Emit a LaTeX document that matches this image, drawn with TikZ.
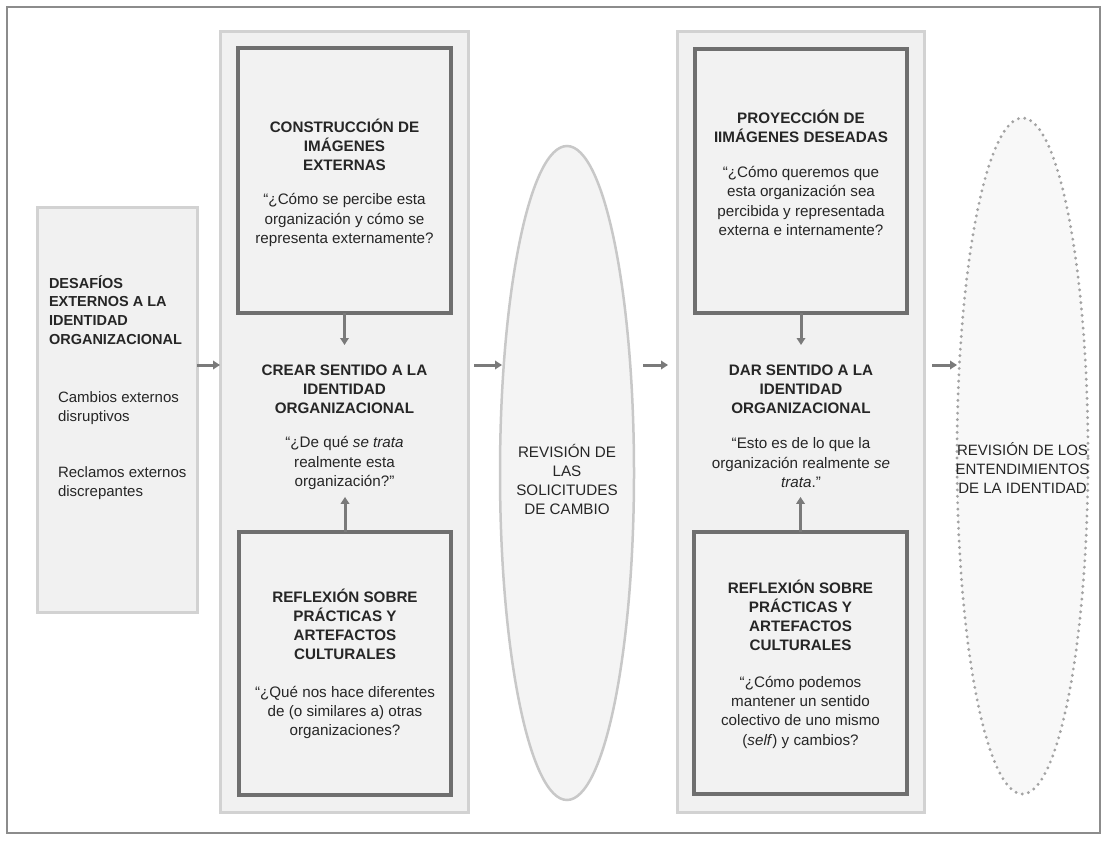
\documentclass[tikz,border=0pt]{standalone}
\usepackage{fontspec}
\setmainfont{Liberation Sans}
\usetikzlibrary{arrows.meta,shapes.geometric}

\definecolor{panelfill}{HTML}{F1F1F1}
\definecolor{panelline}{HTML}{D2D2D2}
\definecolor{boxfill}{HTML}{F2F2F2}
\definecolor{boxline}{HTML}{6F6F6F}
\definecolor{ink}{HTML}{262626}
\definecolor{arrowcol}{HTML}{7A7A7A}
\definecolor{framecol}{HTML}{8C8C8C}
\definecolor{ellfill}{HTML}{F4F4F4}
\definecolor{ellline}{HTML}{C8C8C8}
\definecolor{dotcol}{HTML}{A3A3A3}

% first-line strut: the baseline sits 15pt below a node's north anchor
\newcommand{\Bh}{\rule{0pt}{15pt}}
\newcommand{\Hd}[1]{\textbf{#1}}

\begin{document}
\begin{tikzpicture}[x=1pt,y=-1pt,
  panel/.style={draw=panelline, line width=3pt, fill=panelfill, inner sep=0pt, outer sep=0pt},
  ibox/.style={draw=boxline, line width=3.5pt, fill=boxfill, inner sep=0pt, outer sep=0pt},
  txt/.style={align=center, inner sep=0pt, outer sep=0pt, anchor=north, text=ink,
              font=\fontsize{15.2}{19.3}\selectfont},
  ltxt/.style={txt, align=left, anchor=north west},
  arr/.style={draw=arrowcol, line width=3pt, -{Triangle[length=7pt,width=8.5pt]}},
  solidell/.style={ellipse, draw=ellline, line width=2.5pt, fill=ellfill, inner sep=0pt, outer sep=0pt},
  dotell/.style={ellipse, draw=dotcol, line width=3.2pt, line cap=round,
                 dash pattern=on 0pt off 6.4pt, fill=ellfill!60!white, inner sep=0pt, outer sep=0pt}
]
\useasboundingbox (0,0) rectangle (1107,840);

% outer frame
\draw[framecol, line width=1.5pt] (7,7) rectangle (1100,833);

% level of the horizontal flow arrows
\coordinate (flow) at (0,365);

% left box: external challenges
\node[panel, minimum width=160pt, minimum height=405pt] (d) at (117,409.5) {};
\node[ltxt, font=\fontsize{14.5}{18.7}\selectfont] (dh) at (49,273) {\Bh\Hd{DESAFÍOS}\\ \Hd{EXTERNOS A LA}\\ \Hd{IDENTIDAD}\\ \Hd{ORGANIZACIONAL}};
\node[ltxt, font=\fontsize{15}{19}\selectfont] (dc) at (58,387) {\Bh Cambios externos\\ disruptivos};
\node[ltxt, font=\fontsize{15}{19}\selectfont] (dr) at (58,462) {\Bh Reclamos externos\\ discrepantes};

% first panel
\node[panel, minimum width=248pt, minimum height=780pt] (p1) at (344,422) {};
\node[ibox, minimum width=213pt, minimum height=265pt] (b1) at (344.5,180.5) {};
\node[txt] (t1) at (344.5,117) {\Bh\Hd{CONSTRUCCIÓN DE}\\ \Hd{IMÁGENES}\\ \Hd{EXTERNAS}\\[15pt]
  “¿Cómo se percibe esta\\ organización y cómo se\\ representa externamente?};
\node[ibox, minimum width=212pt, minimum height=263pt] (b2) at (345,663.5) {};
\node[txt] (t2) at (345,587) {\Bh\Hd{REFLEXIÓN SOBRE}\\ \Hd{PRÁCTICAS Y}\\ \Hd{ARTEFACTOS}\\ \Hd{CULTURALES}\\[18pt]
  “¿Qué nos hace diferentes\\ de (o similares a) otras\\ organizaciones?};
\node[txt] (m1) at (344.5,345) {\rule{0pt}{30pt}\Hd{CREAR SENTIDO A LA}\\ \Hd{IDENTIDAD}\\ \Hd{ORGANIZACIONAL}\\[15pt]
  “¿De qué \textit{se trata}\\ realmente esta\\ organización?”\rule[-10.4pt]{0pt}{10.4pt}};
\draw[arr] (b1.south) -- (m1.north);
\draw[arr] (b2.north) -- (b2.north |- m1.south);

% first review ellipse
\node[solidell, minimum width=134pt, minimum height=654pt] (e1) at (567,473) {};
\node[txt] (e1t) at (567,442) {\Bh REVISIÓN DE\\ LAS\\ SOLICITUDES\\ DE CAMBIO};

% second panel
\node[panel, minimum width=247pt, minimum height=780pt] (p2) at (800.5,422) {};
\node[ibox, minimum width=212pt, minimum height=264pt] (b3) at (801,181) {};
\node[txt] (t3) at (801,108) {\Bh\Hd{PROYECCIÓN DE}\\ \Hd{IIMÁGENES DESEADAS}\\[16pt]
  “¿Cómo queremos que\\ esta organización sea\\ percibida y representada\\ externa e internamente?};
\node[ibox, minimum width=213pt, minimum height=262pt] (b4) at (800.5,663) {};
\node[txt] (t4) at (800.5,578) {\Bh\Hd{REFLEXIÓN SOBRE}\\ \Hd{PRÁCTICAS Y}\\ \Hd{ARTEFACTOS}\\ \Hd{CULTURALES}\\[17pt]
  “¿Cómo podemos\\ mantener un sentido\\ colectivo de uno mismo\\ (\textit{self}) y cambios?};
\node[txt] (m2) at (801,345) {\rule{0pt}{30pt}\Hd{DAR SENTIDO A LA}\\ \Hd{IDENTIDAD}\\ \Hd{ORGANIZACIONAL}\\[16pt]
  “Esto es de lo que la\\ organización realmente \textit{se}\\ \textit{trata}.”\rule[-9.4pt]{0pt}{9.4pt}};
\draw[arr] (b3.south) -- (m2.north);
\draw[arr] (b4.north) -- (b4.north |- m2.south);

% second review ellipse (dotted)
\node[dotell, minimum width=131pt, minimum height=676pt] (e2) at (1022.5,456) {};
\node[txt, font=\fontsize{15}{19.3}\selectfont] (e2t) at (1022.5,440) {\Bh REVISIÓN DE LOS\\ ENTENDIMIENTOS\\ DE LA IDENTIDAD};

% flow arrows
\draw[arr] (d.east |- flow) -- (p1.west |- flow);
\draw[arr, shorten <=6pt, shorten >=-2pt] (p1.east |- flow) -- (e1.west |- flow);
\draw[arr, shorten <=9pt, shorten >=9pt] (e1.east |- flow) -- (p2.west |- flow);
\draw[arr, shorten <=8pt] (p2.east |- flow) -- (e2.west |- flow);
\end{tikzpicture}
\end{document}
